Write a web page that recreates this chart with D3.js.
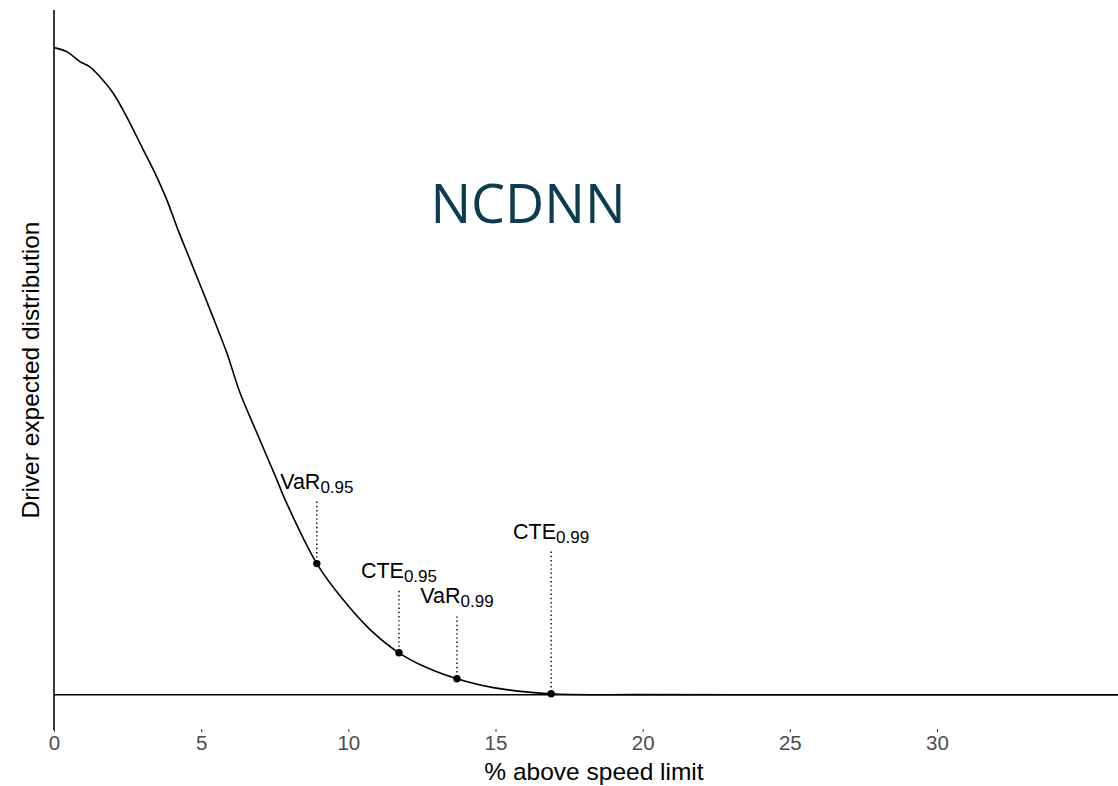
<!DOCTYPE html>
<html>
<head>
<meta charset="utf-8">
<script src="https://cdn.jsdelivr.net/npm/d3@7"></script>
<style>
  body { margin: 0; background: #fff; }
  text { font-family: "Liberation Sans", Arial, sans-serif; }
</style>
</head>
<body>
<svg id="chart"></svg>
<script>
// density curve (x = % above speed limit)
var speedPct = [0, 0.43, 0.88, 1.22, 1.56, 2.00, 2.47, 3.03, 3.49, 3.83, 4.21, 4.62, 5.30, 5.87, 6.32, 6.89, 7.57, 7.85, 8.93, 9.82, 10.74, 11.72, 12.66, 13.69, 14.92, 16.89, 20, 25, 30, 36.2];
var density  = [0.1618, 0.1608, 0.1583, 0.1570, 0.1545, 0.1505, 0.1445, 0.1363, 0.1295, 0.1238, 0.1163, 0.1088, 0.0963, 0.0855, 0.0755, 0.0655, 0.0538, 0.0488, 0.0328, 0.0238, 0.0163, 0.0105, 0.0068, 0.0040, 0.0018, 0.00025, 0.00004, 0, 0, 0];

// risk measures
var riskNames = ["VaR", "CTE", "VaR", "CTE"];
var riskLevels = ["0.95", "0.95", "0.99", "0.99"];
var riskX = [8.93, 11.72, 13.69, 16.89];
var riskY = [0.0328, 0.0105, 0.0040, 0.00025];
var segTop = [0.0483, 0.0260, 0.0196, 0.0358];

var xTicks = [0, 5, 10, 15, 20, 25, 30];

var screen = {width: 1118, height: 786};

var svg = d3.select("#chart")
  .attr("width", screen.width)
  .attr("height", screen.height);

var x = d3.scaleLinear().domain([0, 36.15]).range([54, 1118]);
var y = d3.scaleLinear().domain([-0.0088, 0.1712]).range([730, 10]);

var curve = speedPct.map(function(d, i) { return [d, density[i]]; });

// axis lines
svg.append("line")
  .attr("x1", x(0)).attr("x2", x(0))
  .attr("y1", y.range()[1]).attr("y2", y.range()[0])
  .attr("stroke", "#222").attr("stroke-width", 1.8);
svg.append("line")
  .attr("x1", x(0)).attr("x2", x.range()[1])
  .attr("y1", y(0)).attr("y2", y(0))
  .attr("stroke", "#000").attr("stroke-width", 1.5);

// x axis
var xAxis = d3.axisBottom(x).tickValues(xTicks).tickSize(3).tickPadding(3);
var gx = svg.append("g").attr("transform", "translate(0," + 729 + ")").call(xAxis);
gx.select(".domain").remove();
gx.selectAll(".tick line").attr("stroke", "#333").attr("stroke-width", 1);
gx.selectAll(".tick text")
  .attr("fill", "#4d4d4d")
  .style("font-size", "20.5px")
  .style("font-family", "Liberation Sans, Arial, sans-serif");

// density line
var line = d3.line()
  .x(function(d) { return x(d[0]); })
  .y(function(d) { return y(d[1]); })
  .curve(d3.curveCatmullRom.alpha(0.5));

svg.append("path")
  .datum(curve)
  .attr("d", line)
  .attr("fill", "none")
  .attr("stroke", "#000")
  .attr("stroke-width", 1.6);

// dotted segments
svg.selectAll(".seg").data(riskX).enter()
  .append("line").attr("class", "seg")
  .attr("x1", function(d) { return x(d); })
  .attr("x2", function(d) { return x(d); })
  .attr("y1", function(d, i) { return y(segTop[i]); })
  .attr("y2", function(d, i) { return y(riskY[i]); })
  .attr("stroke", "#000")
  .attr("stroke-width", 1.4)
  .attr("stroke-dasharray", "1.4,2.8");

// points
svg.selectAll(".pt").data(riskX).enter()
  .append("circle").attr("class", "pt")
  .attr("cx", function(d) { return x(d); })
  .attr("cy", function(d, i) { return y(riskY[i]); })
  .attr("r", 3.7)
  .attr("fill", "#000");

// labels with subscripts
var lab = svg.selectAll(".lab").data(riskX).enter()
  .append("text").attr("class", "lab")
  .attr("x", function(d) { return x(d); })
  .attr("y", function(d, i) { return y(segTop[i]) - 13; })
  .attr("text-anchor", "middle")
  .attr("fill", "#000");
lab.append("tspan")
  .style("font-size", "21.5px")
  .text(function(d, i) { return riskNames[i]; });
lab.append("tspan")
  .attr("dy", 4)
  .style("font-size", "17px")
  .text(function(d, i) { return riskLevels[i]; });

// title inside the panel
svg.append("text")
  .attr("x", 528).attr("y", 223)
  .attr("text-anchor", "middle")
  .style("font-family", "Open Sans, Noto Sans, sans-serif")
  .style("font-size", "54px")
  .attr("fill", "#0b3c50")
  .text("NCDNN");

// axis titles
svg.append("text")
  .attr("x", 594).attr("y", 780)
  .attr("text-anchor", "middle")
  .style("font-size", "24.5px")
  .attr("fill", "#000")
  .text("% above speed limit");

svg.append("text")
  .attr("transform", "translate(39,370) rotate(-90)")
  .attr("text-anchor", "middle")
  .style("font-size", "24.5px")
  .attr("fill", "#000")
  .text("Driver expected distribution");
</script>
</body>
</html>
